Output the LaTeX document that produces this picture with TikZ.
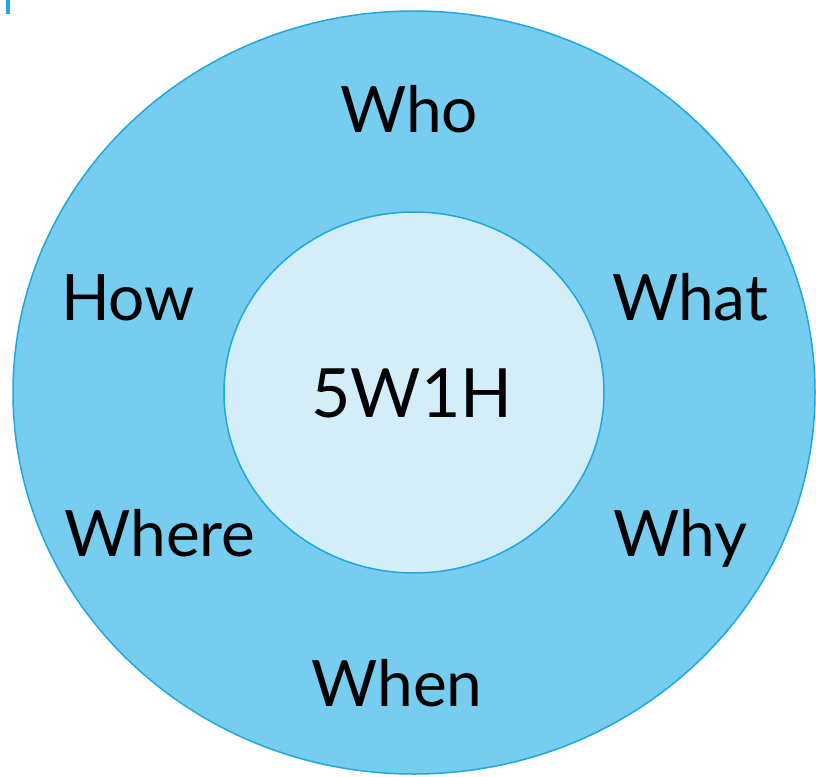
\documentclass[tikz,border=0pt]{standalone}
\usepackage{fontspec}
\setmainfont{Lato}
\definecolor{ringfill}{HTML}{77CDEF}
\definecolor{ringline}{HTML}{1EA8E0}
\definecolor{corefill}{HTML}{D4EEF9}
\begin{document}
\begin{tikzpicture}[x=1pt,y=-1pt,
  lbl/.style={anchor=base,inner sep=0pt,font=\fontsize{64}{72}\selectfont,text=black},
  core/.style={anchor=base,inner sep=0pt,font=\fontsize{68}{76}\selectfont,text=black}]
\useasboundingbox (0,0) rectangle (816,776);
\fill[ringline] (6,0) rectangle (10,14);
\draw[ringline,fill=ringfill,line width=1.5pt] (414,392.5) ellipse [x radius=401,y radius=381.5];
\draw[ringline,fill=corefill,line width=1.5pt] (414,392.5) ellipse [x radius=190,y radius=180.5];
\node[core] (c) at (412,417) {5W1H};
\node[lbl] (who) at (409,132) {Who};
\node[lbl] (how) at (128,320) {How};
\node[lbl] (what) at (690,320) {What};
\node[lbl] (where) at (160,556) {Where};
\node[lbl] (why) at (680,556) {Why};
\node[lbl] (when) at (397,706) {When};
\end{tikzpicture}
\end{document}
